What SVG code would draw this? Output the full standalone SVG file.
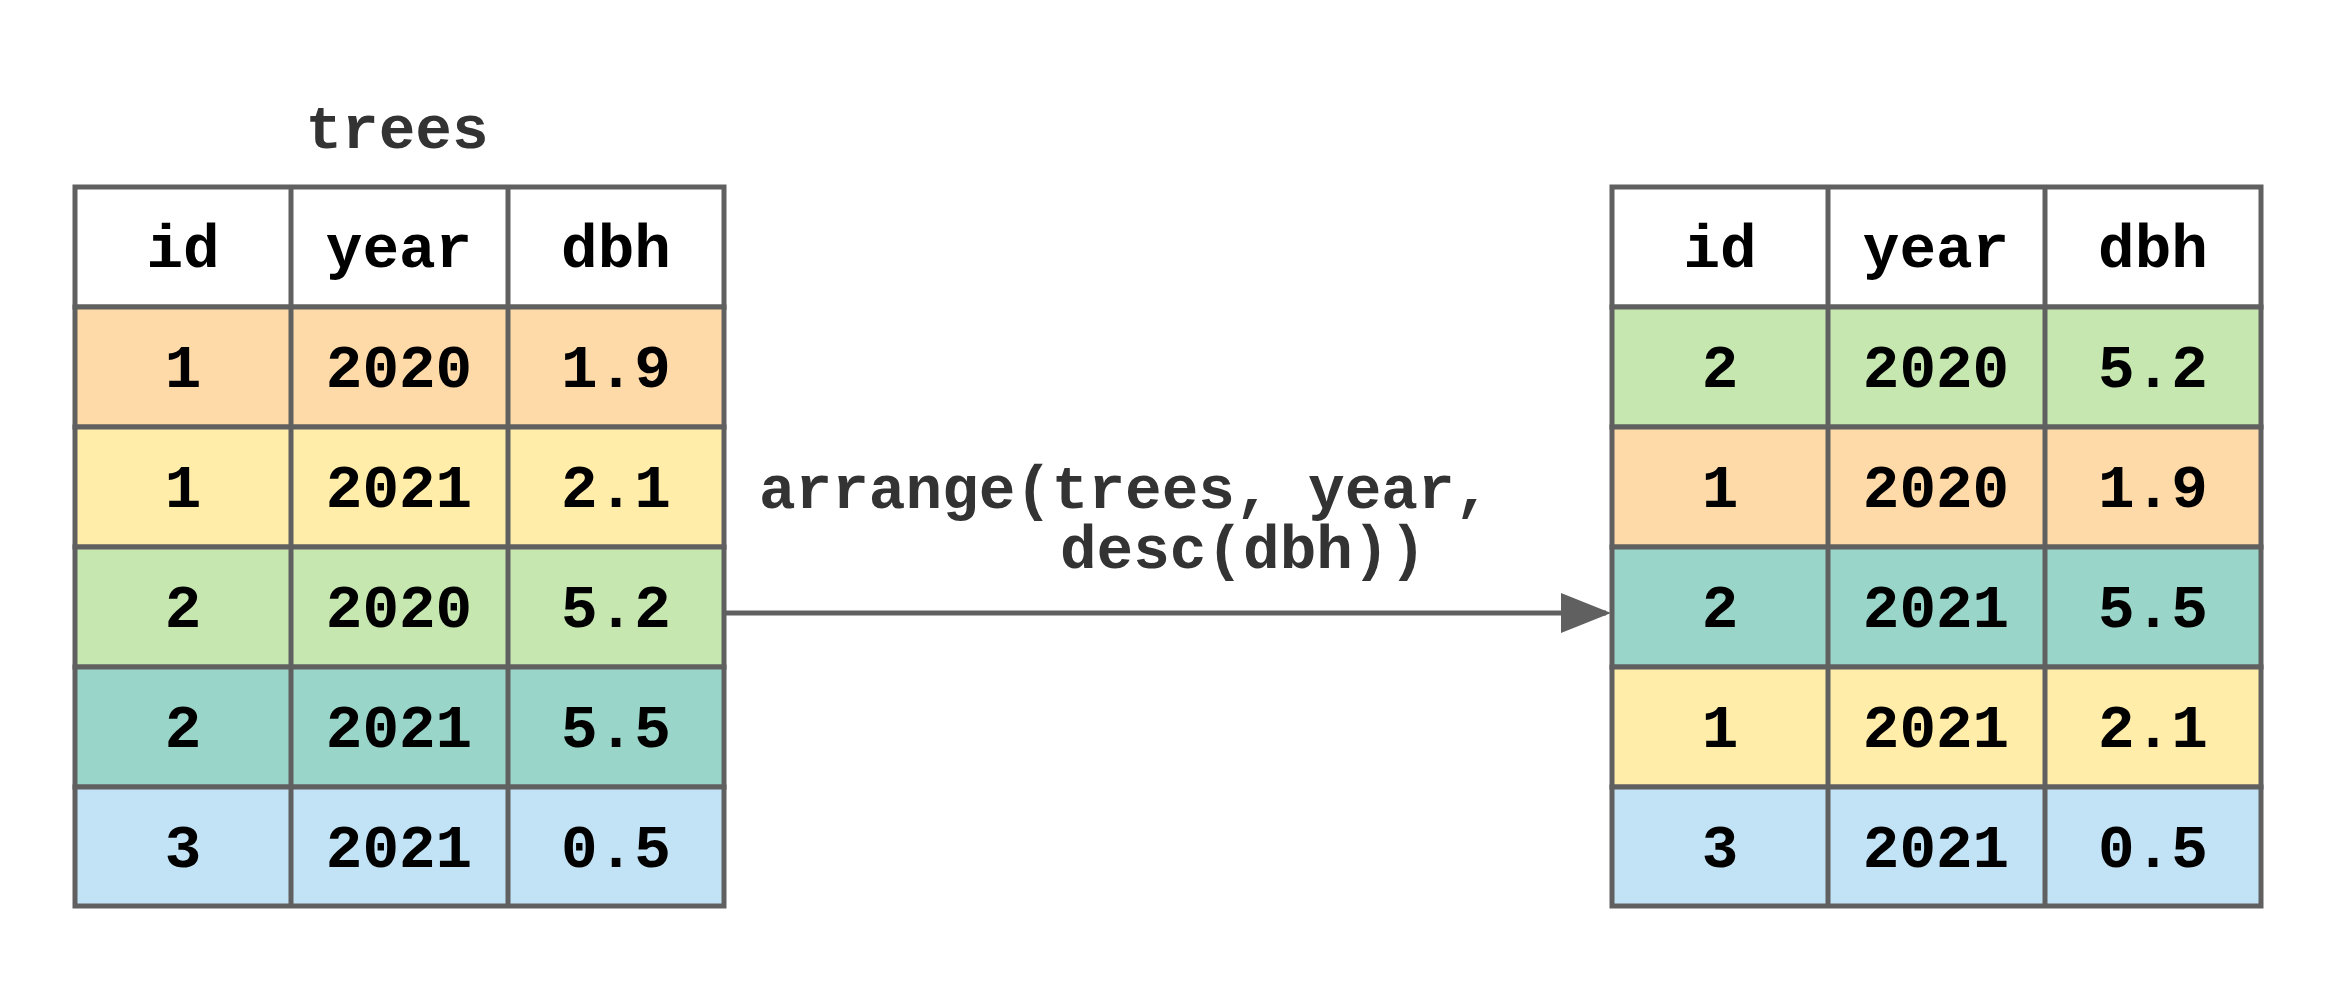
<svg xmlns="http://www.w3.org/2000/svg" width="2334" height="983" viewBox="0 0 2334 983">
<style>
.c{stroke:#606060;stroke-width:5}
.t{font-family:"Liberation Mono","Courier New",monospace;font-weight:bold;font-size:61px;fill:#000;text-anchor:middle}
.l{font-family:"Liberation Mono","Courier New",monospace;font-weight:bold;font-size:61px;fill:#333}
.w{fill:#fff}.o{fill:#FFDAA9}.y{fill:#FFEDA9}.g{fill:#C6E8B0}.tl{fill:#9AD5C9}.b{fill:#C2E3F5}
</style>
<defs><marker id="ah" markerWidth="10" markerHeight="8" refX="9" refY="4" orient="auto" markerUnits="strokeWidth"><path d="M0,0L10,4L0,8z" fill="#606060"/></marker></defs>
<text class="l" x="397" y="148" text-anchor="middle">trees</text>
<g id="left">
<g class="c"><rect class="w" x="75" y="187" width="649" height="120"/>
<rect class="o" x="75" y="307" width="649" height="120"/>
<rect class="y" x="75" y="427" width="649" height="120"/>
<rect class="g" x="75" y="547" width="649" height="120"/>
<rect class="tl" x="75" y="667" width="649" height="120"/>
<rect class="b" x="75" y="787" width="649" height="119"/>
<line x1="291" y1="187" x2="291" y2="906"/><line x1="508" y1="187" x2="508" y2="906"/></g>
<g class="t"><text x="183" y="267">id</text><text x="399" y="267">year</text><text x="616" y="267">dbh</text>
<text x="183" y="387">1</text><text x="399" y="387">2020</text><text x="616" y="387">1.9</text>
<text x="183" y="507">1</text><text x="399" y="507">2021</text><text x="616" y="507">2.1</text>
<text x="183" y="627">2</text><text x="399" y="627">2020</text><text x="616" y="627">5.2</text>
<text x="183" y="747">2</text><text x="399" y="747">2021</text><text x="616" y="747">5.5</text>
<text x="183" y="867">3</text><text x="399" y="867">2021</text><text x="616" y="867">0.5</text></g>
</g>
<g id="right">
<g class="c"><rect class="w" x="1612" y="187" width="649" height="120"/>
<rect class="g" x="1612" y="307" width="649" height="120"/>
<rect class="o" x="1612" y="427" width="649" height="120"/>
<rect class="tl" x="1612" y="547" width="649" height="120"/>
<rect class="y" x="1612" y="667" width="649" height="120"/>
<rect class="b" x="1612" y="787" width="649" height="119"/>
<line x1="1828" y1="187" x2="1828" y2="906"/><line x1="2045" y1="187" x2="2045" y2="906"/></g>
<g class="t"><text x="1720" y="267">id</text><text x="1936" y="267">year</text><text x="2153" y="267">dbh</text>
<text x="1720" y="387">2</text><text x="1936" y="387">2020</text><text x="2153" y="387">5.2</text>
<text x="1720" y="507">1</text><text x="1936" y="507">2020</text><text x="2153" y="507">1.9</text>
<text x="1720" y="627">2</text><text x="1936" y="627">2021</text><text x="2153" y="627">5.5</text>
<text x="1720" y="747">1</text><text x="1936" y="747">2021</text><text x="2153" y="747">2.1</text>
<text x="1720" y="867">3</text><text x="1936" y="867">2021</text><text x="2153" y="867">0.5</text></g>
</g>
<g id="connectors">
<line x1="724" y1="613" x2="1606" y2="613" stroke="#606060" stroke-width="5" marker-end="url(#ah)"/>
<text class="l" x="759" y="508">arrange(trees, year,</text>
<text class="l" x="1060" y="568">desc(dbh))</text>
</g>
</svg>
